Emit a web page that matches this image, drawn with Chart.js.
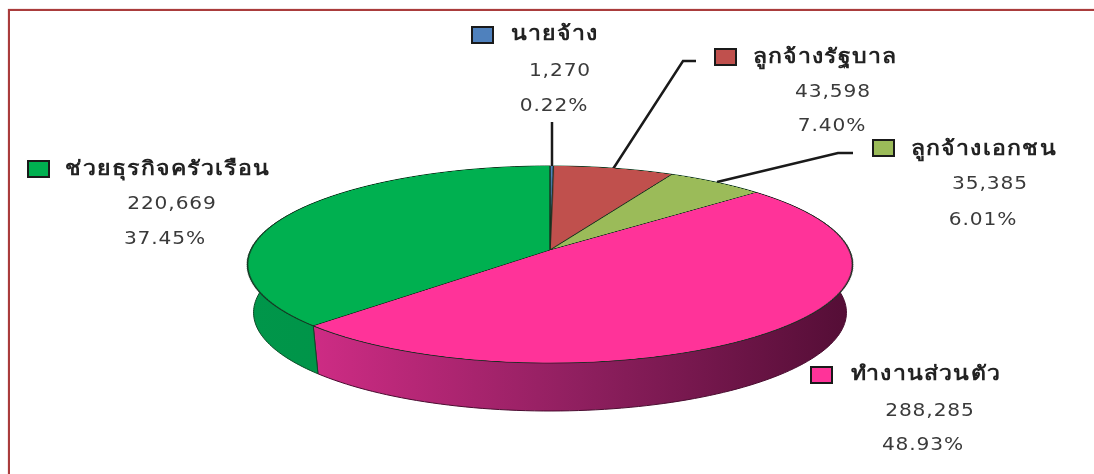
<!DOCTYPE html>
<html lang="th">
<head>
<meta charset="utf-8">
<script src="https://cdn.jsdelivr.net/npm/chart.js@4/dist/chart.umd.min.js"></script>
<style>
  html, body { margin: 0; padding: 0; background: #fff; }
  #stage { position: relative; width: 1094px; height: 474px; overflow: hidden; }
  #frame { position: absolute; left: 8px; top: 9px; width: 1200px; height: 600px; border: 2px solid #aa3c3c; box-sizing: border-box; box-shadow: 0 0 1px rgba(170, 60, 60, 0.7); }
  #wall { position: absolute; left: 0; top: 0; }
  #pieBox { position: absolute; left: 0; top: 0; width: 640px; height: 640px; transform-origin: 0 0; }
  .swatch { position: absolute; width: 19px; height: 14px; border: 2px solid #1a1a1a; }
  .txt { position: absolute; white-space: nowrap; transform: translate(-50%, -50%) scaleX(1.12); color: #3a3a3a; font-family: "DejaVu Sans", sans-serif; font-size: 18px; letter-spacing: 0.8px; }
  .name { transform: translate(-50%, -50%) scaleX(1.15); color: #222; font-family: "Noto Sans", "DejaVu Sans", sans-serif; font-size: 20px; font-weight: 600; letter-spacing: 1.1px; }
</style>
</head>
<body>
<div id="stage">
  <div id="frame"></div>
  <canvas id="wall" width="1094" height="474"></canvas>
  <div id="pieBox"><canvas id="pie"></canvas></div>
</div>
<script>
const categories = ["นายจ้าง", "ลูกจ้างรัฐบาล", "ลูกจ้างเอกชน", "ทำงานส่วนตัว", "ช่วยธุรกิจครัวเรือน"];
const counts = [1270, 43598, 35385, 288285, 220669];
const percents = ["0.22%", "7.40%", "6.01%", "48.93%", "37.45%"];
const colors = ["#4f81bd", "#c0504d", "#9bbb59", "#ff3399", "#00b050"];

// label block layout: swatch left/top, then centres of the name, count and percent lines
const labelBoxes = [
  { sx: 471, sy: 26, nx: 555, ny: 33, cx: 560, cy: 69, px: 554, py: 104 },
  { sx: 714, sy: 48, nx: 825, ny: 56, cx: 833, cy: 90, px: 832, py: 124 },
  { sx: 872, sy: 139, nx: 984, ny: 148, cx: 990, cy: 182, px: 983, py: 218 },
  { sx: 810, sy: 366, nx: 926, ny: 373, cx: 930, cy: 409, px: 923, py: 443 },
  { sx: 27, sy: 160, nx: 168, ny: 168, cx: 172, cy: 202, px: 165, py: 237 },
];
const leaders = [
  [[552, 122], [552, 168]],
  [[696, 61], [683, 61], [613, 169]],
  [[853, 153], [838, 153], [717, 182]],
];

// perspective of the pie: apex on screen, top/bottom reach, half width, extrusion
const apexX = 550, apexY = 250;
const reachTop = 84, reachBottom = 113, halfWidth = 302.5, depth = 48;
const persp = -(reachBottom - reachTop) / (reachBottom + reachTop);
const scaleY = reachTop * (1 - persp);
const scaleX = halfWidth * Math.sqrt(1 - persp * persp);

function project(angle) {
  // chart.js angle, 0 = 3 o'clock
  const u = Math.cos(angle), v = Math.sin(angle);
  const w = 1 + persp * v;
  return [apexX + scaleX * u / w, apexY + scaleY * v / w];
}

function drawWall(arcs) {
  const ctx = document.getElementById("wall").getContext("2d");
  ctx.clearRect(0, 0, 1094, 474);
  const shades = { 3: ["#cf2c85", "#8f1f5f", "#560e37"], 4: ["#00964a", "#00964a", "#008a40"] };
  arcs.forEach((arc, i) => {
    const top = [], bottom = [];
    for (let k = 0; k <= 120; k++) {
      const [x, y] = project(arc.startAngle + (arc.endAngle - arc.startAngle) * k / 120);
      top.push([x, y]);
      bottom.push([apexX + (x - apexX) * 0.98, y + depth]);
    }
    ctx.beginPath();
    top.forEach(([x, y], k) => (k ? ctx.lineTo(x, y) : ctx.moveTo(x, y)));
    bottom.reverse().forEach(([x, y]) => ctx.lineTo(x, y));
    ctx.closePath();
    const stops = shades[i] || [colors[i], colors[i], colors[i]];
    const grad = ctx.createLinearGradient(apexX - halfWidth, 0, apexX + halfWidth, 0);
    if (i === 3) {
      grad.addColorStop(0.1, stops[0]);
      grad.addColorStop(0.55, stops[1]);
      grad.addColorStop(0.98, stops[2]);
    } else {
      grad.addColorStop(0, stops[0]);
      grad.addColorStop(1, stops[2]);
    }
    ctx.fillStyle = grad;
    ctx.fill();
    ctx.strokeStyle = i === 3 ? "#4a0c30" : "#0b4a25";
    ctx.lineWidth = 1;
    ctx.stroke();
  });

  ctx.strokeStyle = "#1a1a1a";
  ctx.lineWidth = 2.5;
  leaders.forEach((pts) => {
    ctx.beginPath();
    pts.forEach(([x, y], k) => (k ? ctx.lineTo(x, y) : ctx.moveTo(x, y)));
    ctx.stroke();
  });
}

function addText(cls, text, x, y) {
  const el = document.createElement("div");
  el.className = cls;
  el.textContent = text;
  el.style.left = x + "px";
  el.style.top = y + "px";
  document.getElementById("stage").appendChild(el);
}

categories.forEach((name, i) => {
  const b = labelBoxes[i];
  const sw = document.createElement("div");
  sw.className = "swatch";
  sw.style.left = b.sx + "px";
  sw.style.top = b.sy + "px";
  sw.style.background = colors[i];
  document.getElementById("stage").appendChild(sw);
  addText("txt name", name, b.nx, b.ny);
  addText("txt", counts[i].toLocaleString("en-US"), b.cx, b.cy);
  addText("txt", percents[i], b.px, b.py);
});

const chart = new Chart(document.getElementById("pie"), {
  type: "pie",
  data: {
    labels: categories,
    datasets: [{ data: counts, backgroundColor: colors, borderColor: "#14301f", borderWidth: 1.5 }],
  },
  options: {
    responsive: true,
    maintainAspectRatio: false,
    animation: false,
    devicePixelRatio: 2,
    layout: { padding: 2 },
    plugins: { legend: { display: false }, tooltip: { enabled: false } },
  },
});

// tilt the pie canvas with a homography that sends its circle onto the screen ellipse
const arcs = chart.getDatasetMeta(0).data;
const R = arcs[0].outerRadius, cx0 = arcs[0].x, cy0 = arcs[0].y;
const m11 = scaleX / R, m21 = apexX * persp / R, m22 = (scaleY + apexY * persp) / R, m24 = persp / R;
const m41 = apexX - m11 * cx0 - m21 * cy0;
const m42 = apexY - m22 * cy0;
const m44 = 1 - m24 * cy0;
document.getElementById("pieBox").style.transform =
  `matrix3d(${m11},0,0,0, ${m21},${m22},0,${m24}, 0,0,1,0, ${m41},${m42},0,${m44})`;
drawWall(arcs);
</script>
</body>
</html>
